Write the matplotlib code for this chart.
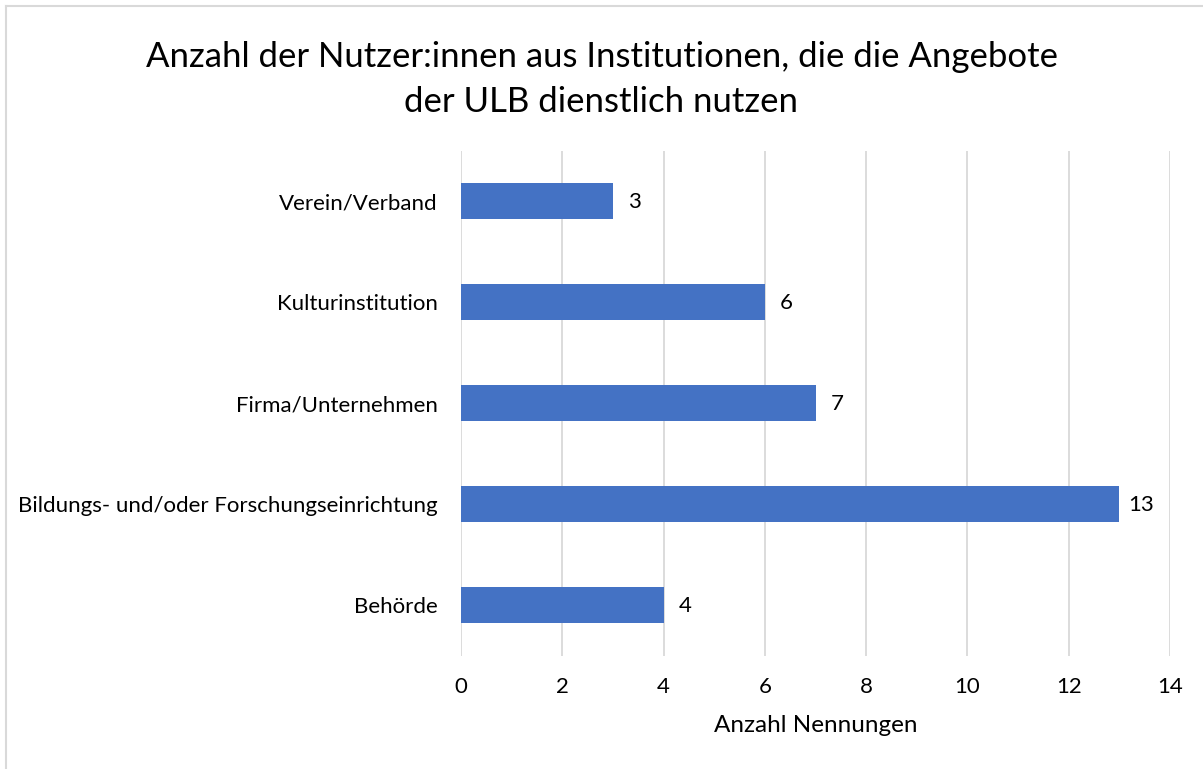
import matplotlib
matplotlib.use("Agg")
import matplotlib.pyplot as plt
from matplotlib.lines import Line2D

categories = ["Behörde", "Bildungs- und/oder Forschungseinrichtung",
              "Firma/Unternehmen", "Kulturinstitution", "Verein/Verband"]
values = [4, 13, 7, 6, 3]
xticks = [0, 2, 4, 6, 8, 10, 12, 14]

plt.rcParams['font.family'] = ['Lato', 'DejaVu Sans']

fig = plt.figure(figsize=(12.03, 7.69), dpi=100)
ax = fig.add_axes([461/1203, 1-655.5/769, 709/1203, 505/769])

ypos = list(range(len(categories)))
bars = ax.barh(ypos, values, height=0.356, color="#4472C4", zorder=3)
for y, v in zip(ypos, values):
    ax.text(v + 0.43, y - 0.01, str(v), va="center", ha="center", fontsize=16, color="black")

ax.set_xlim(0, 14)
ax.set_ylim(-0.5, 4.5)
ax.set_xticks(xticks)
ax.set_xticklabels([str(t) for t in xticks], fontsize=16)
ax.set_yticks(ypos)
ax.set_yticklabels(categories, fontsize=16)
ax.tick_params(axis="x", length=0, pad=15.5)
ax.tick_params(axis="y", length=0, pad=17)
ax.xaxis.grid(True, color="#d9d9d9", linewidth=1.3, zorder=0)
for s in ax.spines.values():
    s.set_visible(False)
ax.set_xlabel("Anzahl Nennungen", fontsize=17.5, labelpad=13)

fig.text(0.5, 1-57/769, "Anzahl der Nutzer:innen aus Institutionen, die die Angebote",
         ha="center", va="center", fontsize=25)
fig.text(0.5, 1-102/769, "der ULB dienstlich nutzen", ha="center", va="center", fontsize=25)

fig.add_artist(Line2D([6/1203, 6/1203], [0, 1-6/769], transform=fig.transFigure, color="#d9d9d9", lw=1.5))
fig.add_artist(Line2D([6/1203, 1], [1-6/769, 1-6/769], transform=fig.transFigure, color="#d9d9d9", lw=1.5))

fig.savefig("out.png", dpi=100)
